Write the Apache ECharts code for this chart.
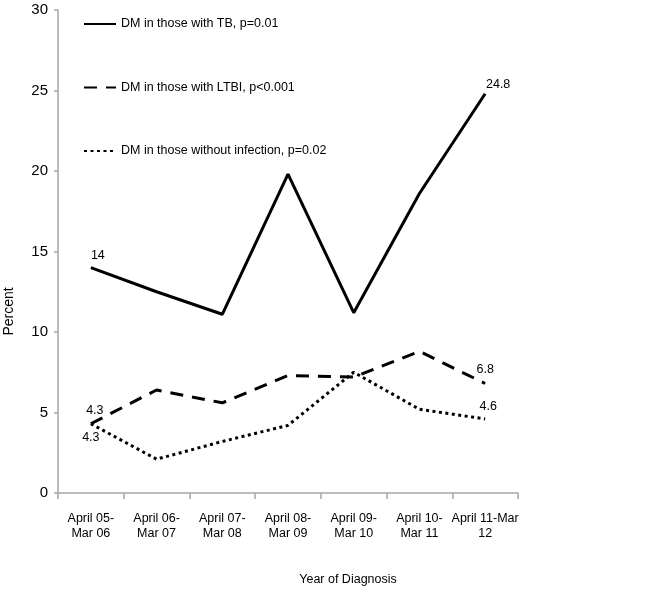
<!DOCTYPE html>
<html><head><meta charset="utf-8">
<script src="https://cdn.jsdelivr.net/npm/echarts@6/dist/echarts.min.js"></script>
<style>html,body{margin:0;padding:0;background:#fff}#c{width:672px;height:592px}</style>
</head><body><div id="c"></div>
<script>
var categories = ['April 05-\nMar 06','April 06-\nMar 07','April 07-\nMar 08','April 08-\nMar 09','April 09-\nMar 10','April 10-\nMar 11','April 11-Mar\n12'];
var tbValues = [14, 12.5, 11.1, 19.8, 11.2, 18.6, 24.8];
var ltbiValues = [4.3, 6.4, 5.6, 7.3, 7.2, 8.8, 6.8];
var noneValues = [4.3, 2.1, 3.2, 4.2, 7.5, 5.2, 4.6];
var seriesNames = ['DM in those with TB, p=0.01','DM in those with LTBI, p<0.001','DM in those without infection, p=0.02'];
var yTicks = [0, 5, 10, 15, 20, 25, 30];
var labelled = [0, 6];
var font = '"Liberation Sans", Arial, sans-serif';

function mk(vals, firstPos, firstOff, lastOff) {
  return vals.map(function (v, i) {
    var o = { value: v };
    if (labelled.indexOf(i) >= 0) {
      o.symbol = 'circle';
      o.symbolSize = 1;
      o.itemStyle = { color: 'rgba(0,0,0,0)' };
      o.label = { show: true, position: i === 0 ? firstPos : 'top', offset: i === 0 ? firstOff : lastOff,
        formatter: String(v), color: '#000', fontFamily: font, fontSize: 12.5 };
    }
    return o;
  });
}
var chart = echarts.init(document.getElementById('c'));
chart.setOption({
  animation: false,
  backgroundColor: '#fff',
  grid: { left: 58, right: 154, top: 10, bottom: 99, outerBoundsMode: 'none', containLabel: false },
  legend: {
    orient: 'vertical', left: 78, top: 12.5, itemGap: 50.5, itemWidth: 32, itemHeight: 14,
    itemStyle: { color: 'rgba(0,0,0,0)', borderColor: 'rgba(0,0,0,0)', borderWidth: 0 },
    textStyle: { fontFamily: font, fontSize: 12.5, color: '#000' },
    data: seriesNames
  },
  xAxis: {
    type: 'category', data: categories, boundaryGap: true,
    name: 'Year of Diagnosis', nameLocation: 'middle', nameGap: 80,
    nameTextStyle: { fontFamily: font, fontSize: 12.5, color: '#000', padding: [0, 0, 0, 120] },
    axisLine: { lineStyle: { color: '#a6a6a6', width: 1.5 } },
    axisTick: { show: true, length: 6, alignWithLabel: false, lineStyle: { color: '#a6a6a6', width: 1.5 } },
    axisLabel: { fontFamily: font, fontSize: 12.5, color: '#000', interval: 0, lineHeight: 15, margin: 18 }
  },
  yAxis: {
    type: 'value', min: yTicks[0], max: yTicks[yTicks.length - 1], interval: 5,
    name: 'Percent', nameLocation: 'middle', nameGap: 42, nameRotate: 90,
    nameTextStyle: { fontFamily: font, fontSize: 14, color: '#000', padding: [0, 120, 0, 0] },
    axisLine: { show: true, lineStyle: { color: '#a6a6a6', width: 1.5 } },
    axisTick: { show: true, length: 4, lineStyle: { color: '#a6a6a6', width: 1.5 } },
    splitLine: { show: false },
    axisLabel: { fontFamily: font, fontSize: 15, color: '#000', margin: 10 }
  },
  series: [
    { name: seriesNames[0], type: 'line', data: mk(tbValues, 'top', [7, 0], [13, 3]), symbol: 'none', showSymbol: true,
      lineStyle: { color: '#000', width: 3 }, itemStyle: { color: '#000' } },
    { name: seriesNames[1], type: 'line', data: mk(ltbiValues, 'top', [4, -1], [0, -2]), symbol: 'none', showSymbol: true,
      lineStyle: { color: '#000', width: 3, type: [13, 9] }, itemStyle: { color: '#000' } },
    { name: seriesNames[2], type: 'line', data: mk(noneValues, 'bottom', [0, 2], [3, 0]), symbol: 'none', showSymbol: true,
      lineStyle: { color: '#000', width: 3, type: [3, 3.5] }, itemStyle: { color: '#000' } }
  ]
});
</script></body></html>
